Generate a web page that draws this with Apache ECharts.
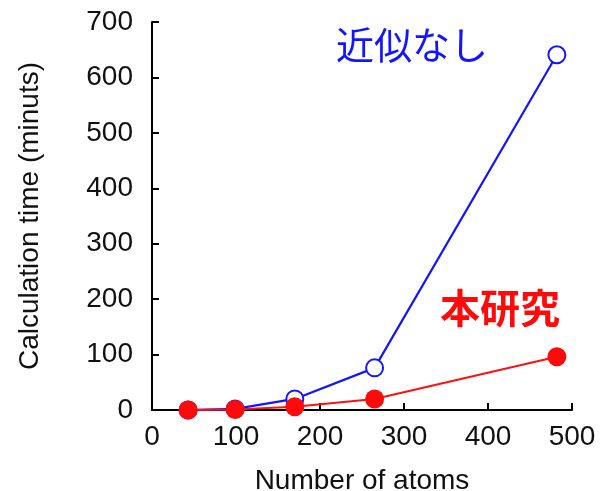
<!DOCTYPE html>
<html>
<head>
<meta charset="utf-8">
<script src="https://cdn.jsdelivr.net/npm/echarts@6/dist/echarts.min.js"></script>
<style>html,body{margin:0;padding:0;background:#fff}#c{width:603px;height:491px}</style>
</head>
<body>
<div id="c"></div>
<script>
var atomsNoApprox = [43, 99, 170, 265, 482];
var timeNoApprox = [0, 2, 20, 76, 641];
var atomsThisWork = [43, 99, 170, 265, 482];
var timeThisWork = [0, 1, 6, 20, 96];
var xTicks = [0, 100, 200, 300, 400, 500];
var yTicks = [0, 100, 200, 300, 400, 500, 600, 700];
var seriesNames = ['近似なし', '本研究'];

function pairs(xs, ys) { return xs.map(function (x, i) { return [x, ys[i]]; }); }

var font = '"Liberation Sans", Arial, Helvetica, sans-serif';
var chart = echarts.init(document.getElementById('c'), null, {renderer: 'canvas'});
chart.setOption({
  animation: false,
  backgroundColor: '#fff',
  grid: {left: 152, right: 31, top: 22, bottom: 81, containLabel: false, outerBoundsMode: 'none'},
  xAxis: {
    type: 'value', min: xTicks[0], max: xTicks[xTicks.length - 1], interval: 100,
    name: 'Number of atoms', nameLocation: 'middle', nameGap: 57,
    nameTextStyle: {fontFamily: font, fontSize: 28, color: '#111'},
    axisLine: {show: true, onZero: false, lineStyle: {color: '#000', width: 2}},
    axisTick: {show: true, inside: true, length: 7, lineStyle: {color: '#000', width: 2}},
    axisLabel: {fontFamily: font, fontSize: 28, color: '#111', margin: 13},
    splitLine: {show: false}
  },
  yAxis: {
    type: 'value', min: yTicks[0], max: yTicks[yTicks.length - 1], interval: 100,
    name: 'Calculation time (minuts)', nameLocation: 'middle', nameGap: 108,
    nameTextStyle: {fontFamily: font, fontSize: 28, color: '#111'},
    axisLine: {show: true, lineStyle: {color: '#000', width: 2}},
    axisTick: {show: true, inside: true, length: 7, lineStyle: {color: '#000', width: 2}},
    axisLabel: {fontFamily: font, fontSize: 28, color: '#111', margin: 19},
    splitLine: {show: false}
  },
  series: [
    {
      name: seriesNames[0], type: 'line', data: pairs(atomsNoApprox, timeNoApprox),
      symbol: 'emptyCircle', symbolSize: 17, z: 2,
      lineStyle: {color: '#1414ff', width: 2.2},
      itemStyle: {color: '#1414ff', borderColor: '#1414ff', borderWidth: 2}
    },
    {
      name: seriesNames[1], type: 'line', data: pairs(atomsThisWork, timeThisWork),
      symbol: 'circle', symbolSize: 19, z: 3,
      lineStyle: {color: '#ff1010', width: 2},
      itemStyle: {color: '#ff0a0a'}
    }
  ],
  graphic: [
    {type: 'text', left: 336, top: 26, style: {text: seriesNames[0], fill: '#1414ff', fontSize: 38, fontWeight: 'normal', fontFamily: '"Noto Sans CJK JP", sans-serif'}},
    {type: 'text', left: 440, top: 288, style: {text: seriesNames[1], fill: '#ff0a0a', fontSize: 40, fontWeight: 'bold', fontFamily: '"Noto Sans CJK JP", sans-serif'}}
  ]
});
</script>
</body>
</html>
